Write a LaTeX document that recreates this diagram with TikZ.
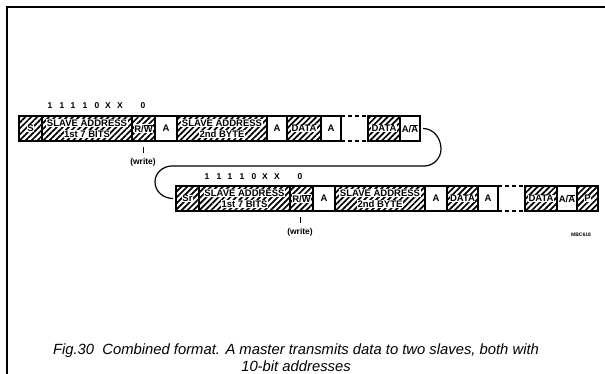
\documentclass[tikz,border=0pt]{standalone}
\usepackage{fontspec}
\setmainfont{Liberation Sans}
\usetikzlibrary{patterns.meta}
\tikzset{
  cellst/.style={draw=black, line width=1.2pt, anchor=north west, minimum height=25pt, inner sep=0pt, outer sep=0pt},
  hatch/.style={cellst, pattern={Lines[angle=45,distance=4.2pt,line width=1.7pt]}},
  plain/.style={cellst, fill=white},
  gapst/.style={anchor=north west, minimum height=25pt, inner sep=0pt, outer sep=0pt},
  lbl/.style={fill=white, inner sep=0.5pt, font=\fontsize{9.5}{10}\selectfont\bfseries},
  lblp/.style={inner sep=0.5pt, font=\fontsize{9.5}{10}\selectfont\bfseries},
  bits/.style={inner sep=0pt, font=\fontsize{8.5}{9}\selectfont\bfseries},
  conn/.style={line width=1.2pt},
}
\newcommand\cell[5]{\node[#1, minimum width={(#4-#3)*1pt}] (#2) at (#3,#5) {};}
\begin{document}
\begin{tikzpicture}[x=1pt,y=-1pt]
\useasboundingbox (0,0) rectangle (605,374);
% frame
\draw[line width=1.3pt] (7,374) -- (7,7) -- (605,7);

% ---------- row 1 ----------
\cell{hatch}{s1}{19}{42}{116}
\cell{hatch}{sa1}{42}{132}{116}
\cell{hatch}{rw1}{132}{155}{116}
\cell{plain}{a1}{155}{177}{116}
\cell{hatch}{sb1}{177}{267}{116}
\cell{plain}{a2}{267}{287}{116}
\cell{hatch}{d1}{287}{321}{116}
\cell{plain}{a3}{321}{341}{116}
\cell{gapst}{g1}{341}{368}{116}
\cell{hatch}{d2}{368}{400}{116}
\cell{plain}{aa1}{400}{420}{116}
\draw[line width=1.2pt, dash pattern=on 4pt off 3pt] (g1.north west) -- (g1.north east) (g1.south west) -- (g1.south east);

\node[lbl] at (s1) {S};
\node[lbl] at ([yshift=5.5pt]sa1.center) {SLAVE ADDRESS};
\node[lbl] at ([yshift=-5.5pt]sa1.center) {1st 7 BITS};
\node[lbl] at (rw1) {R/$\overline{\mbox{W}}$};
\node[lblp] at (a1) {A};
\node[lbl] at ([yshift=5.5pt]sb1.center) {SLAVE ADDRESS};
\node[lbl] at ([yshift=-5.5pt]sb1.center) {2nd BYTE};
\node[lblp] at (a2) {A};
\node[lbl] at (d1) {DATA};
\node[lblp] at (a3) {A};
\node[lbl] at (d2) {DATA};
\node[lblp] at (aa1) {A/$\overline{\mbox{A}}$};

\foreach \x/\t [count=\i] in {50/1,62/1,73/1,85/1,97/0,108/X,120/X}
  \node[bits] (b1\i) at (\x,106) {\t};
\node[bits] (z1) at (143,106) {0};
\coordinate (t1a) at (143,147);
\coordinate (t1b) at (143,153);
\draw[line width=0.9pt] (t1a) -- (t1b);
\node[bits] (w1) at (143,162) {(write)};

% ---------- row 2 ----------
\cell{hatch}{s2}{176}{199}{186}
\cell{hatch}{sa2}{199}{290}{186}
\cell{hatch}{rw2}{290}{313}{186}
\cell{plain}{b1}{313}{335}{186}
\cell{hatch}{sb2}{335}{425}{186}
\cell{plain}{b2}{425}{447}{186}
\cell{hatch}{e1}{447}{478}{186}
\cell{plain}{b3}{478}{498}{186}
\cell{gapst}{g2}{498}{525}{186}
\cell{hatch}{e2}{525}{557}{186}
\cell{plain}{aa2}{557}{577}{186}
\cell{hatch}{p2}{577}{598}{186}
\draw[line width=1.2pt, dash pattern=on 4pt off 3pt] (g2.north west) -- (g2.north east) (g2.south west) -- (g2.south east);

\node[lbl] at (s2) {Sr};
\node[lbl] at ([yshift=5.5pt]sa2.center) {SLAVE ADDRESS};
\node[lbl] at ([yshift=-5.5pt]sa2.center) {1st 7 BITS};
\node[lbl] at (rw2) {R/$\overline{\mbox{W}}$};
\node[lblp] at (b1) {A};
\node[lbl] at ([yshift=5.5pt]sb2.center) {SLAVE ADDRESS};
\node[lbl] at ([yshift=-5.5pt]sb2.center) {2nd BYTE};
\node[lblp] at (b2) {A};
\node[lbl] at (e1) {DATA};
\node[lblp] at (b3) {A};
\node[lbl] at (e2) {DATA};
\node[lblp] at (aa2) {A/$\overline{\mbox{A}}$};
\node[lbl] at (p2) {P};

\foreach \x/\t [count=\i] in {207/1,219/1,230/1,242/1,254/0,265/X,277/X}
  \node[bits] (b2\i) at (\x,177) {\t};
\node[bits] (z2) at (300,177) {0};
\coordinate (t2a) at (300,217);
\coordinate (t2b) at (300,223);
\draw[line width=0.9pt] (t2a) -- (t2b);
\node[bits] (w2) at (300,232) {(write)};

\node[inner sep=0pt, font=\fontsize{5}{5}\selectfont\bfseries] (code) at (581,235) {MBC618};

% ---------- connector ----------
\coordinate (c0) at ([xshift=3pt]aa1.east);
\coordinate (c1) at (441,149);
\coordinate (c2) at (424,166);
\coordinate (c3) at (172,166);
\coordinate (c4) at (155,182);
\coordinate (c5) at ([xshift=-3pt]s2.west);
\draw[conn] (c0) to[out=0,in=90] (c1) to[out=-90,in=0] (c2) -- (c3) to[out=180,in=90] (c4) to[out=-90,in=180] (c5);

% ---------- caption ----------
\node[font=\fontsize{14.8}{17.5}\selectfont\itshape, align=center] (cap) at (296,357.5)
  {Fig.30\ \ Combined format. A master transmits data to two slaves, both with\\10-bit addresses};
\end{tikzpicture}
\end{document}
